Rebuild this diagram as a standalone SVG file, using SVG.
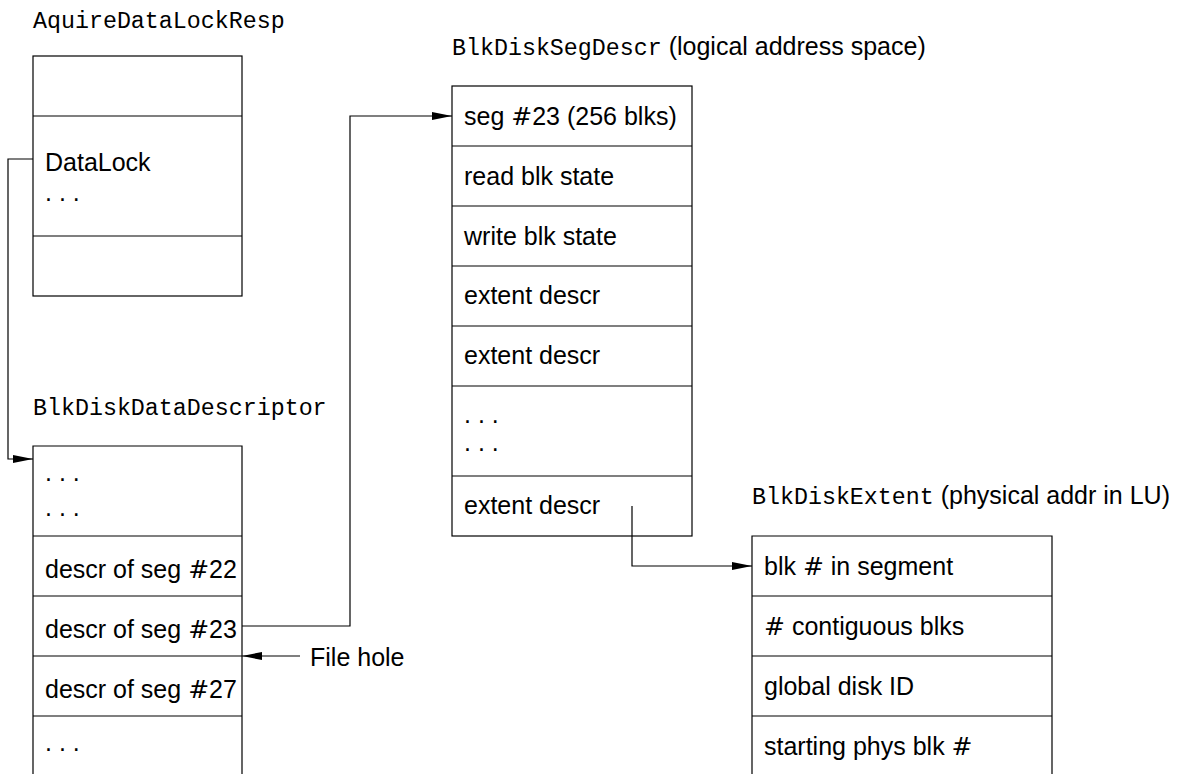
<svg xmlns="http://www.w3.org/2000/svg" width="1185" height="774" viewBox="0 0 1185 774">
  <style>
    .box { fill: none; stroke: #000; stroke-width: 1.2; }
    .rule { stroke: #000; stroke-width: 1.2; }
    .wire { fill: none; stroke: #000; stroke-width: 1.2; }
    .tt { font-family: "Liberation Mono", "DejaVu Sans Mono", monospace; font-size: 23.3px; fill: #000; }
    .sf { font-family: "Liberation Sans", Arial, sans-serif; font-size: 25px; fill: #000; }
    .hash { font-family: "DejaVu Sans", sans-serif; }
  </style>
  <defs>
    <marker id="head" viewBox="0 0 20 8" refX="20" refY="4" markerWidth="20" markerHeight="8" markerUnits="userSpaceOnUse" orient="auto">
      <path d="M0,0 L20,4 L0,8 Z" fill="#000"/>
    </marker>
  </defs>

  <rect width="1185" height="774" fill="#fff"/>

  <!-- response record holding the DataLock field -->
  <g id="aquire-data-lock-resp">
    <text class="tt" x="33" y="28">AquireDataLockResp</text>
    <rect class="box" x="33" y="56" width="209" height="240"/>
    <line class="rule" x1="33" y1="116" x2="242" y2="116"/>
    <line class="rule" x1="33" y1="236" x2="242" y2="236"/>
    <text class="sf" x="45" y="171">DataLock</text>
    <text class="sf" x="45" y="201">. . .</text>
  </g>

  <!-- per-file descriptor table, one entry per segment -->
  <g id="blk-disk-data-descriptor">
    <text class="tt" x="33" y="415">BlkDiskDataDescriptor</text>
    <path class="box" d="M33,774 V446 H242 V774"/>
    <line class="rule" x1="33" y1="536" x2="242" y2="536"/>
    <line class="rule" x1="33" y1="596" x2="242" y2="596"/>
    <line class="rule" x1="33" y1="656" x2="242" y2="656"/>
    <line class="rule" x1="33" y1="716" x2="242" y2="716"/>
    <text class="sf" x="45" y="481">. . .</text>
    <text class="sf" x="45" y="516">. . .</text>
    <text class="sf" x="45" y="578">descr of seg <tspan class="hash">#</tspan>22</text>
    <text class="sf" x="45" y="638">descr of seg <tspan class="hash">#</tspan>23</text>
    <text class="sf" x="45" y="698">descr of seg <tspan class="hash">#</tspan>27</text>
    <text class="sf" x="45" y="751">. . .</text>
  </g>

  <!-- segment descriptor in the logical address space -->
  <g id="blk-disk-seg-descr">
    <text x="452" y="55"><tspan class="tt">BlkDiskSegDescr</tspan><tspan class="sf"> (logical address space)</tspan></text>
    <rect class="box" x="452" y="86" width="240" height="450"/>
    <line class="rule" x1="452" y1="146" x2="692" y2="146"/>
    <line class="rule" x1="452" y1="206" x2="692" y2="206"/>
    <line class="rule" x1="452" y1="266" x2="692" y2="266"/>
    <line class="rule" x1="452" y1="326" x2="692" y2="326"/>
    <line class="rule" x1="452" y1="386" x2="692" y2="386"/>
    <line class="rule" x1="452" y1="476" x2="692" y2="476"/>
    <text class="sf" x="464" y="125">seg <tspan class="hash">#</tspan>23 (256 blks)</text>
    <text class="sf" x="464" y="185">read blk state</text>
    <text class="sf" x="464" y="245">write blk state</text>
    <text class="sf" x="464" y="304">extent descr</text>
    <text class="sf" x="464" y="364">extent descr</text>
    <text class="sf" x="464" y="423">. . .</text>
    <text class="sf" x="464" y="451">. . .</text>
    <text class="sf" x="464" y="514">extent descr</text>
  </g>

  <!-- extent record giving the physical address in the LU -->
  <g id="blk-disk-extent">
    <text x="752" y="504"><tspan class="tt">BlkDiskExtent</tspan><tspan class="sf"> (physical addr in LU)</tspan></text>
    <path class="box" d="M752,774 V536 H1052 V774"/>
    <line class="rule" x1="752" y1="596" x2="1052" y2="596"/>
    <line class="rule" x1="752" y1="656" x2="1052" y2="656"/>
    <line class="rule" x1="752" y1="716" x2="1052" y2="716"/>
    <text class="sf" x="764" y="575">blk <tspan class="hash">#</tspan> in segment</text>
    <text class="sf" x="764" y="635"><tspan class="hash">#</tspan> contiguous blks</text>
    <text class="sf" x="764" y="695">global disk ID</text>
    <text class="sf" x="764" y="755">starting phys blk <tspan class="hash">#</tspan></text>
  </g>

  <!-- annotation for the gap between segments 23 and 27 -->
  <g id="file-hole">
    <text class="sf" x="310" y="666">File hole</text>
  </g>

  <g id="connectors">
    <path class="wire" d="M33,159 H8 V459 H33" marker-end="url(#head)"/>
    <path class="wire" d="M242,626 H350 V116 H452" marker-end="url(#head)"/>
    <path class="wire" d="M300,656 H242" marker-end="url(#head)"/>
    <path class="wire" d="M632,506 V566 H752" marker-end="url(#head)"/>
  </g>
</svg>
